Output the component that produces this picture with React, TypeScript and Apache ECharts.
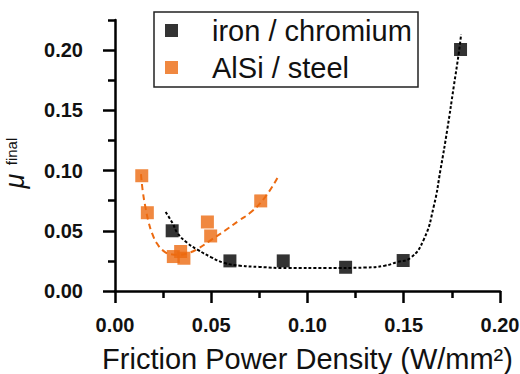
import React, { useEffect, useRef } from "react";
import * as echarts from "echarts";

// Measured points: friction power density (W/mm²) vs final friction coefficient
const ironPowerDensity = [0.0297, 0.0597, 0.0874, 0.1198, 0.1497, 0.1795];
const ironMuFinal = [0.05, 0.025, 0.025, 0.0197, 0.0253, 0.2005];

const alsiPowerDensity = [0.0139, 0.0168, 0.0303, 0.0341, 0.0358, 0.048, 0.0497, 0.0757];
const alsiMuFinal = [0.0957, 0.065, 0.0286, 0.0328, 0.0272, 0.0573, 0.0457, 0.0748];

// Fitted trend curves
const ironFitX = [0.0263, 0.03, 0.0324, 0.0375, 0.0428, 0.05, 0.0566, 0.065, 0.075, 0.09, 0.11, 0.13, 0.14, 0.1465, 0.1535, 0.1604, 0.1656, 0.1691, 0.1726, 0.176, 0.1786, 0.1798];
const ironFitY = [0.0656, 0.056, 0.0483, 0.04, 0.0344, 0.028, 0.0234, 0.021, 0.02, 0.019, 0.019, 0.0195, 0.021, 0.024, 0.0275, 0.0427, 0.0704, 0.1008, 0.134, 0.17, 0.1977, 0.213];

const alsiFitX = [0.0135, 0.0145, 0.016, 0.0175, 0.0195, 0.022, 0.025, 0.029, 0.033, 0.038, 0.043, 0.05, 0.057, 0.064, 0.071, 0.078, 0.0846];
const alsiFitY = [0.097, 0.082, 0.068, 0.057, 0.047, 0.039, 0.0335, 0.0305, 0.03, 0.0315, 0.035, 0.0425, 0.05, 0.058, 0.066, 0.078, 0.0946];

const yMajorTicks = [0, 0.05, 0.1, 0.15, 0.2];
const yMinorTicks = [0.025, 0.075, 0.125, 0.175, 0.225];

const seriesNames = ["iron / chromium", "AlSi / steel"];

const ORANGE = "#EC6A10";
const FONT = "Liberation Sans, Arial, sans-serif";

const zip = (xs: number[], ys: number[]) => xs.map((x, i) => [x, ys[i]]);

export default function App() {
  const ref = useRef<HTMLDivElement>(null);

  useEffect(() => {
    if (!ref.current) return;
    const chart = echarts.init(ref.current, null, { renderer: "svg" });

    const axisLine = { show: true, lineStyle: { color: "#000", width: 2.5 } };
    const tickLabel = {
      fontFamily: FONT,
      fontSize: 20,
      fontWeight: "bold",
      color: "#111",
      formatter: (v: number) => v.toFixed(2),
    };

    chart.setOption({
      animation: false,
      backgroundColor: "#fff",
      grid: {
        left: 115,
        right: 20,
        top: 20,
        bottom: 83,
        containLabel: false,
        outerBoundsMode: "none",
      },
      legend: {
        data: seriesNames,
        orient: "vertical",
        left: 165,
        top: 16,
        padding: 0,
        itemGap: 8,
        itemWidth: 13,
        itemHeight: 13,
        icon: "rect",
        textStyle: {
          fontFamily: FONT,
          fontSize: 29,
          lineHeight: 29,
          color: "#111",
          padding: [0, 0, 0, 29],
        },
      },
      graphic: [
        {
          type: "rect",
          shape: { x: 154, y: 12, width: 264, height: 75 },
          style: { fill: "none", stroke: "#222", lineWidth: 1.5 },
          z: 10,
        },
      ],
      xAxis: {
        type: "value",
        min: 0,
        max: 0.2,
        interval: 0.05,
        name: "Friction Power Density (W/mm²)",
        nameLocation: "middle",
        nameGap: 53,
        nameTextStyle: { fontFamily: FONT, fontSize: 29, color: "#111" },
        axisLine,
        axisTick: { show: true, length: 12, lineStyle: { color: "#000", width: 2.5 } },
        minorTick: { show: true, splitNumber: 2, length: 7, lineStyle: { color: "#000", width: 2.5 } },
        splitLine: { show: false },
        axisLabel: { margin: 24, ...tickLabel },
      },
      yAxis: [
        {
          type: "value",
          min: 0,
          max: 0.225,
          // main symbol of the axis title
          name: "μ",
          nameLocation: "middle",
          nameRotate: 90,
          nameGap: 87,
          nameTextStyle: {
            fontFamily: FONT,
            fontSize: 27,
            fontStyle: "italic",
            color: "#111",
            lineHeight: 26,
            padding: [0, 51, 0, 0],
          },
          axisLine,
          axisTick: {
            show: true,
            length: 12,
            customValues: yMajorTicks,
            lineStyle: { color: "#000", width: 2.5 },
          },
          splitLine: { show: false },
          axisLabel: { margin: 32, customValues: yMajorTicks, ...tickLabel },
        },
        {
          type: "value",
          min: 0,
          max: 0.225,
          position: "left",
          // subscript of the axis title
          name: "final",
          nameLocation: "middle",
          nameRotate: 90,
          nameGap: 96,
          nameTextStyle: {
            fontFamily: FONT,
            fontSize: 15,
            color: "#111",
            lineHeight: 15,
            padding: [0, 0, 0, 8],
          },
          axisLine: { show: false },
          axisTick: {
            show: true,
            length: 7,
            customValues: yMinorTicks,
            lineStyle: { color: "#000", width: 2.5 },
          },
          axisLabel: { show: false },
          splitLine: { show: false },
        },
      ],
      series: [
        {
          type: "line",
          data: zip(ironFitX, ironFitY),
          showSymbol: false,
          symbol: "none",
          smooth: true,
          lineStyle: { color: "#000", width: 2, type: [3, 2] },
          silent: true,
          z: 1,
        },
        {
          type: "line",
          data: zip(alsiFitX, alsiFitY),
          showSymbol: false,
          symbol: "none",
          smooth: true,
          lineStyle: { color: ORANGE, width: 2, type: [6, 4] },
          silent: true,
          z: 1,
        },
        {
          name: seriesNames[0],
          type: "scatter",
          data: zip(ironPowerDensity, ironMuFinal),
          symbol: "rect",
          symbolSize: 13,
          itemStyle: { color: "#000" },
          z: 3,
        },
        {
          name: seriesNames[1],
          type: "scatter",
          data: zip(alsiPowerDensity, alsiMuFinal),
          symbol: "rect",
          symbolSize: 13,
          itemStyle: { color: ORANGE },
          z: 3,
        },
      ],
    });

    return () => chart.dispose();
  }, []);

  return <div ref={ref} style={{ width: 520, height: 374, position: "absolute", left: 0, top: 0 }} />;
}
